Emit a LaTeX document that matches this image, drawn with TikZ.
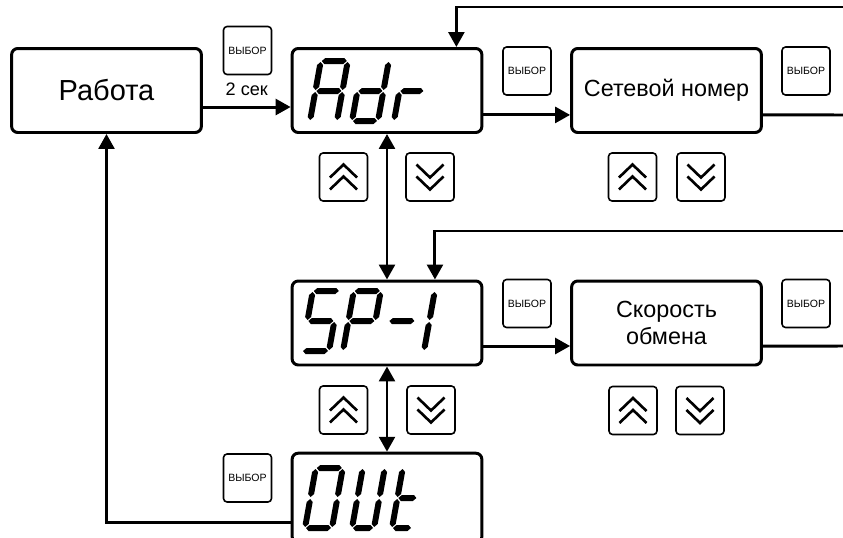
\documentclass[tikz,border=0pt]{standalone}
\usepackage{fontspec}
\setmainfont{Liberation Sans}
\usetikzlibrary{arrows.meta}
% segments of the indicator digits
\newcommand{\segh}[1]{\fill (1.0,#1) -- (4.0,#1+3.0) -- (\sw-4.0,#1+3.0) -- (\sw-1.0,#1) -- (\sw-4.0,#1-3.0) -- (4.0,#1-3.0) -- cycle;}
\newcommand{\segv}[3]{\fill (#1,#2+1.0) -- (#1+3.0,#2+4.0) -- (#1+3.0,#3-4.0) -- (#1,#3-1.0) -- (#1-3.0,#3-4.0) -- (#1-3.0,#2+4.0) -- cycle;}
\newcommand{\sega}{\segh{60}}
\newcommand{\segb}{\segv{\sw}{30}{60}}
\newcommand{\segc}{\segv{\sw}{0}{30}}
\newcommand{\segd}{\segh{0}}
\newcommand{\sege}{\segv{0}{0}{30}}
\newcommand{\segf}{\segv{0}{30}{60}}
\newcommand{\segg}{\segh{30}}
\newcommand{\sdigit}[4]{\begin{scope}[shift={(#1,#2)},x=0.02cm,y=0.02cm,xslant=0.18]\def\sw{#3}\foreach \s in {#4}{\csname seg\s\endcsname}\end{scope}}

\begin{document}
\begin{tikzpicture}[x=0.02cm,y=-0.02cm,
  blk/.style={draw,line width=1.7pt,rounded corners=3.5pt,minimum width=108pt,minimum height=47.8pt,inner sep=2pt,align=center,font=\fontsize{13.3}{15.3}\selectfont},
  btn/.style={draw,line width=0.9pt,rounded corners=2pt,minimum size=27.3pt,inner sep=0pt},
  vyb/.style={btn,font=\fontsize{6}{7}\selectfont},
  arr/.style={-{Triangle[length=8.5pt,width=9pt]},line width=1.7pt},
  darr/.style={{Triangle[length=8.5pt,width=9pt]}-{Triangle[length=8.5pt,width=9pt]},line width=1.7pt},
  chev/.style={line width=1.5pt},
  lab/.style={font=\fontsize{10.3}{12}\selectfont}]
\useasboundingbox (0,0) rectangle (843,538);
\node[blk,font=\fontsize{16.5}{19}\selectfont] (work) at (106.5,90.5) {Работа};
\node[blk] (adr) at (387,90.5) {};
\node[blk] (net) at (666.5,90.5) {Сетевой номер};
\node[blk] (sp) at (387,323) {};
\node[blk] (speed) at (666.5,323) {Скорость\\обмена};
\node[blk,minimum height=51pt] (out) at (387,498) {};
\node[vyb] (v1) at (247.5,50.5) {ВЫБОР};
\node[vyb] (v2) at (527,71) {ВЫБОР};
\node[vyb] (v3) at (806,71) {ВЫБОР};
\node[vyb] (v4) at (527,303.5) {ВЫБОР};
\node[vyb] (v5) at (806,303.5) {ВЫБОР};
\node[vyb] (v6) at (247.5,478) {ВЫБОР};
\node[btn] (up1) at (343.5,177) {};
\node[btn] (dn1) at (430,177) {};
\node[btn] (up2) at (632.5,177) {};
\node[btn] (dn2) at (701,177) {};
\node[btn] (up3) at (343.5,410) {};
\node[btn] (dn3) at (431,410) {};
\node[btn] (up4) at (633,410.5) {};
\node[btn] (dn4) at (700,410.5) {};
\foreach \k in {up1,up2,up3,up4}
  \draw[chev] ([shift={(-7.7pt,-0.3pt)}]\k.center) -- ++(7.7pt,7.4pt) -- ++(7.7pt,-7.4pt)
    ([shift={(-7.7pt,-7.1pt)}]\k.center) -- ++(7.7pt,7.4pt) -- ++(7.7pt,-7.4pt);
\foreach \k in {dn1,dn2,dn3,dn4}
  \draw[chev] ([shift={(-7.7pt,0.3pt)}]\k.center) -- ++(7.7pt,-7.4pt) -- ++(7.7pt,7.4pt)
    ([shift={(-7.7pt,7.1pt)}]\k.center) -- ++(7.7pt,-7.4pt) -- ++(7.7pt,7.4pt);
% indicator texts
\sdigit{310}{121}{27}{a,b,c,e,f,g}
\sdigit{352}{121}{26}{b,c,d,e,g}
\sdigit{394}{121}{25}{e,g}
\sdigit{302}{351}{27}{a,f,g,c,d}
\sdigit{343}{351}{27}{a,b,e,f,g}
\sdigit{383}{351}{27}{g}
\sdigit{424}{351}{27}{e,f}
\sdigit{305}{528}{27}{a,b,c,d,e,f}
\sdigit{352}{528}{22}{b,c,d,e,f}
\sdigit{392}{528}{20}{d,e,f,g}
% connectors
\coordinate (r1) at (845,7);
\coordinate (o1) at (845,115);
\coordinate (r2) at (845,231);
\coordinate (o2) at (845,346);
\draw[arr] ([yshift=-9.4pt]work.east) -- node[lab,above=2pt]{2 сек} ([yshift=-9.4pt]adr.west);
\draw[arr] ([yshift=-13.9pt]adr.east) -- ([yshift=-13.9pt]net.west);
\draw[line width=1.7pt] ([yshift=-13.9pt]net.east) -- (o1);
\draw[arr] (r1) -| ([xshift=39.5pt]adr.north);
\draw[darr] (adr.south) -- (sp.north);
\draw[arr] ([yshift=-13.1pt]sp.east) -- ([yshift=-13.1pt]speed.west);
\draw[line width=1.7pt] ([yshift=-13.1pt]speed.east) -- (o2);
\draw[arr] (r2) -| ([xshift=27.3pt]sp.north);
\draw[darr] (sp.south) -- (out.north);
\draw[arr] ([yshift=-13.7pt]out.west) -| (work.south);
\end{tikzpicture}
\end{document}
